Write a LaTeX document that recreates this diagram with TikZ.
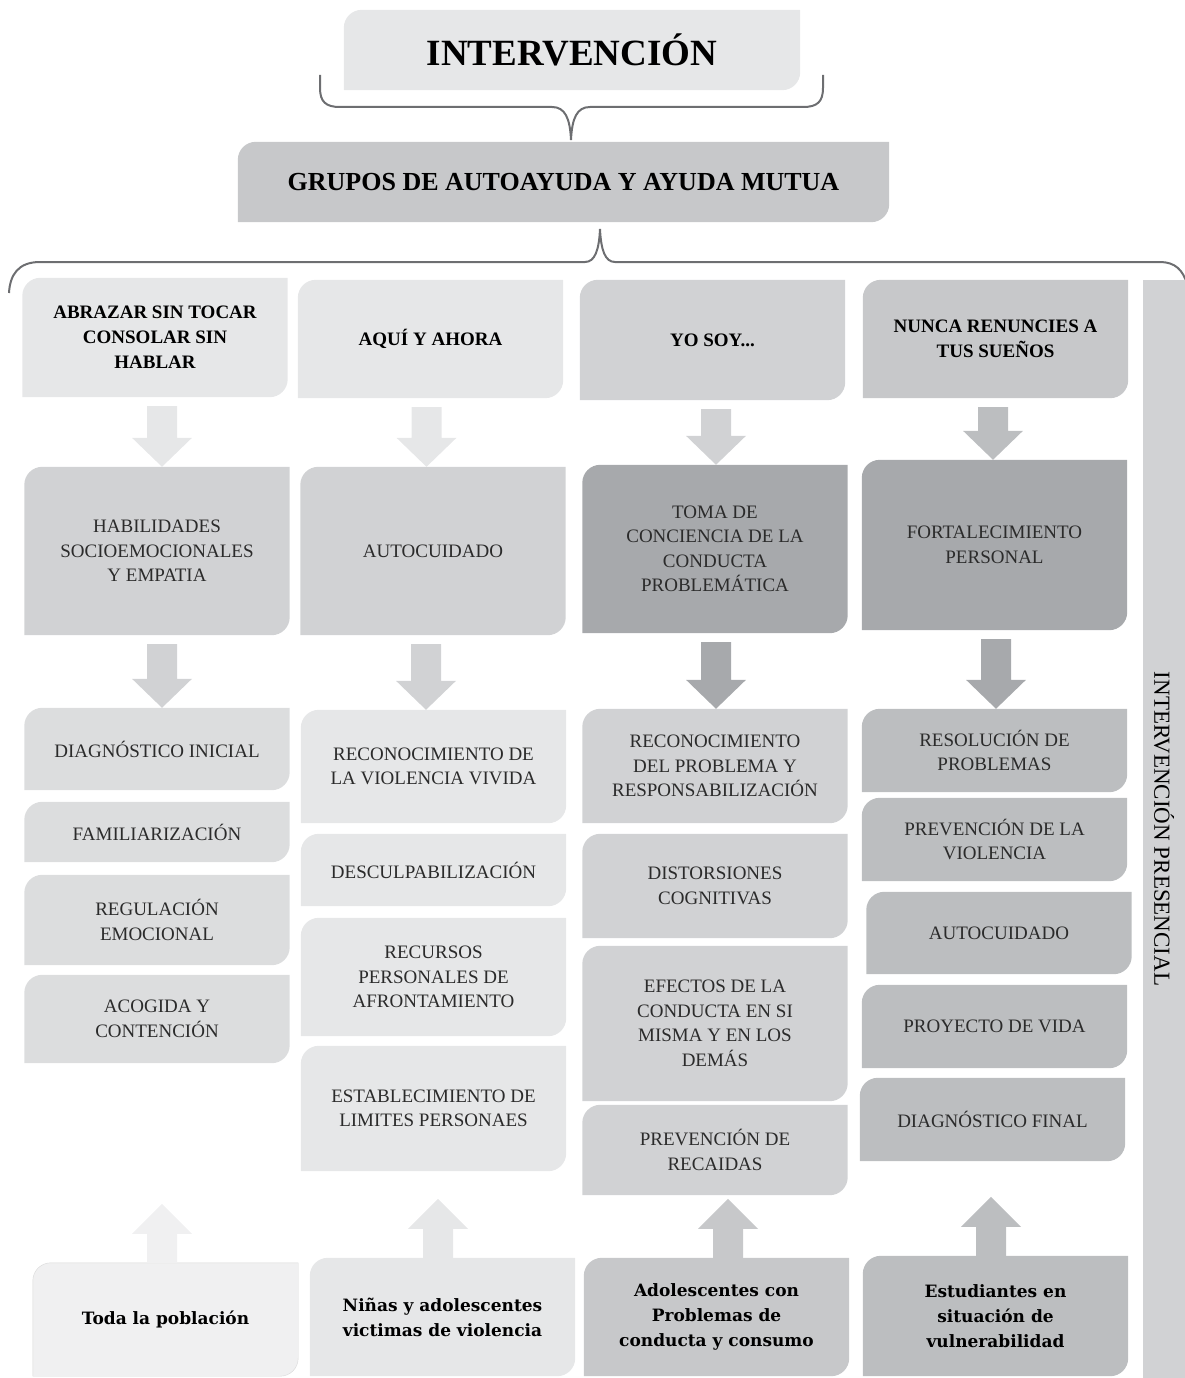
\documentclass[tikz,border=0pt]{standalone}
\usepackage{fontspec}
\setmainfont{Liberation Serif}
\newfontfamily\slabfont{DejaVu Serif}
\usepackage{tikz}
\usetikzlibrary{calc,backgrounds}
\definecolor{grPale}{HTML}{F0F0F1}
\definecolor{grLight}{HTML}{E6E7E8}
\definecolor{grSoft}{HTML}{DCDDDE}
\definecolor{grMid}{HTML}{D1D2D4}
\definecolor{grDeep}{HTML}{C7C8CA}
\definecolor{grStrong}{HTML}{BCBEC0}
\definecolor{grDark}{HTML}{A7A9AC}
\definecolor{grLine}{HTML}{6D6E71}
\definecolor{grText}{HTML}{2B2B2B}
\tikzset{
    cell/.style={
        rectangle,
        inner sep=0pt,
        minimum width=265,
        align=center,
        text=grText,
        font=\fontsize{19}{24.5}\selectfont
    },
    headbox/.style={cell, text=black, font=\fontsize{19}{25}\selectfont\bfseries},
    groupbox/.style={cell, text=black, minimum height=80},
    footbox/.style={cell, text=black, font=\slabfont\fontsize{17}{25}\selectfont\bfseries},
    sidebar/.style={
        rectangle,
        inner sep=0pt,
        rotate=-90,
        minimum width=1098,
        minimum height=42,
        fill=grMid,
        font=\fontsize{23}{26}\selectfont
    },
    brace/.style={draw=grLine, line width=2pt}
}
% box with rounded top left and bottom right corners
\newcommand{\leaf}[2]{%
    \fill[#2] (#1.west) [rounded corners=18pt] |- (#1.north) [sharp corners] -| (#1.east)
        [rounded corners=18pt] |- (#1.south) [sharp corners] -| (#1.west) -- cycle;}
% block arrows
\newcommand{\arrdown}[4]{%
    \fill[#4] let \p1=($(#1.south)+(#3,0)$), \p2=(#2.north) in
        (\x1-15pt,\y1-9pt) -- (\x1+15pt,\y1-9pt) -- (\x1+15pt,\y2+29pt) -- (\x1+30pt,\y2+29pt)
        -- (\x1,\y2) -- (\x1-30pt,\y2+29pt) -- (\x1-15pt,\y2+29pt) -- cycle;}
\newcommand{\arrup}[3]{%
    \fill[#3] let \p1=($(#1.north)+(#2,0)$) in
        (\x1-15pt,\y1) -- (\x1+15pt,\y1) -- (\x1+15pt,\y1+29pt) -- (\x1+30pt,\y1+29pt)
        -- (\x1,\y1+59pt) -- (\x1-30pt,\y1+29pt) -- (\x1-15pt,\y1+29pt) -- cycle;}

\begin{document}
\begin{tikzpicture}[
    x=1pt, y=-1pt,
    titlebox/.style={cell, text=black, minimum width=456, minimum height=80, font=\fontsize{37}{40}\selectfont\bfseries}
]
\useasboundingbox (0,0) rectangle (1185,1378);

% Title and group
\node[titlebox] (top) at (572,50) {INTERVENCIÓN};
\node[groupbox, minimum width=651, font=\fontsize{26}{30}\selectfont\bfseries] (grupos) at (563.5,182) {GRUPOS DE AUTOAYUDA Y AYUDA MUTUA};

% Braces
\coordinate (tipA) at (571,140);
\coordinate (tipB) at (600,229);
\draw[brace] (320,75) -- (320,88) .. controls (320,102) and (326,107) .. (340,107) -- (552,107)
    .. controls (565,107) and (570,118) .. (tipA) .. controls (572,118) and (577,107) .. (590,107)
    -- (803,107) .. controls (817,107) and (823,102) .. (823,88) -- (823,75);
\draw[brace] (9,293) .. controls (10,275) and (18,262) .. (40,262) -- (585,262)
    .. controls (595,262) and (599,250) .. (tipB) .. controls (601,250) and (605,262) .. (615,262)
    -- (1160,262) .. controls (1175,262) and (1183,270) .. (1187,284);

% Programme headings
\foreach \nm/\px/\py/\bh/\txt in {h1/155/337.5/119/{ABRAZAR SIN TOCAR\\CONSOLAR SIN\\HABLAR},
    h2/430.5/339/118/{AQUÍ Y AHORA}, h3/712.5/340/120/{YO SOY...},
    h4/995.5/339/118/{NUNCA RENUNCIES A\\TUS SUEÑOS}} {
    \node[headbox, minimum height=\bh] (\nm) at (\px,\py) {\txt};
}

% Main aims
\foreach \nm/\px/\py/\bh/\txt in {m1/157/551/168/{HABILIDADES\\SOCIOEMOCIONALES\\Y EMPATIA},
    m2/433/551/168/{AUTOCUIDADO}, m3/715/549/168/{TOMA DE\\CONCIENCIA DE LA\\CONDUCTA\\PROBLEMÁTICA},
    m4/994.5/545/170/{FORTALECIMIENTO\\PERSONAL}} {
    \node[cell, minimum height=\bh] (\nm) at (\px,\py) {\txt};
}

% Sessions
\foreach \nm/\px/\py/\bh/\txt in {a1/157/749/82/{DIAGNÓSTICO INICIAL}, a2/157/832/60/{FAMILIARIZACIÓN},
    a3/157/920/90/{REGULACIÓN\\EMOCIONAL}, a4/157/1019/88/{ACOGIDA Y\\CONTENCIÓN},
    b1/433.5/766.5/113/{RECONOCIMIENTO DE\\LA VIOLENCIA VIVIDA}, b2/433.5/870/72/{DESCULPABILIZACIÓN},
    b3/433.5/977/118/{RECURSOS\\PERSONALES DE\\AFRONTAMIENTO},
    b4/433.5/1108.5/125/{ESTABLECIMIENTO DE\\LIMITES PERSONAES},
    c1/715/766/114/{RECONOCIMIENTO\\DEL PROBLEMA Y\\RESPONSABILIZACIÓN}, c2/715/886/104/{DISTORSIONES\\COGNITIVAS},
    c3/715/1023.5/155/{EFECTOS DE LA\\CONDUCTA EN SI\\MISMA Y EN LOS\\DEMÁS}, c4/715/1150/90/{PREVENCIÓN DE\\RECAIDAS},
    e1/994.5/750.5/83/{RESOLUCIÓN DE\\PROBLEMAS}, e2/994.5/839.5/83/{PREVENCIÓN DE LA\\VIOLENCIA},
    e3/999/933/82/{AUTOCUIDADO}, e4/994.5/1026.5/83/{PROYECTO DE VIDA}, e5/992.5/1119.5/83/{DIAGNÓSTICO FINAL}} {
    \node[cell, minimum height=\bh] (\nm) at (\px,\py) {\txt};
}

% Target groups
\foreach \nm/\px/\py/\bh/\txt in {p1/165.5/1319.5/113/{Toda la población},
    p2/442.5/1317/118/{Niñas y adolescentes\\victimas de violencia},
    p3/716.5/1317/118/{Adolescentes con\\Problemas de\\conducta y consumo},
    p4/995.5/1316/120/{Estudiantes en\\situación de\\vulnerabilidad}} {
    \node[footbox, minimum height=\bh] (\nm) at (\px,\py) {\txt};
}

\node[sidebar] (side) at (1164,829) {INTERVENCIÓN PRESENCIAL};

\begin{scope}[on background layer]
    \foreach \nm/\c in {top/grLight, grupos/grDeep, h1/grLight, h2/grLight, h3/grMid, h4/grDeep,
        m1/grMid, m2/grMid, m3/grDark, m4/grDark,
        a1/grSoft, a2/grSoft, a3/grSoft, a4/grSoft, b1/grLight, b2/grLight, b3/grLight, b4/grLight,
        c1/grMid, c2/grMid, c3/grMid, c4/grMid, e1/grStrong, e2/grStrong, e3/grStrong, e4/grStrong, e5/grStrong,
        p2/grLight, p3/grDeep, p4/grStrong} {
        \leaf{\nm}{\c}
    }
    \leaf{p1}{grPale, draw=black!15}
    % arrows
    \arrdown{h1}{m1}{7}{grLight}
    \arrdown{h2}{m2}{-4}{grLight}
    \arrdown{h3}{m3}{3.5}{grMid}
    \arrdown{h4}{m4}{-2.5}{grStrong}
    \arrdown{m1}{a1}{5}{grMid}
    \arrdown{m2}{b1}{-7}{grMid}
    \arrdown{m3}{c1}{1}{grDark}
    \arrdown{m4}{e1}{1.5}{grDark}
    \arrup{p1}{-3.5}{grPale}
    \arrup{p2}{-4.5}{grLight}
    \arrup{p3}{11.5}{grDeep}
    \arrup{p4}{-4.5}{grStrong}
\end{scope}
\end{tikzpicture}
\end{document}
